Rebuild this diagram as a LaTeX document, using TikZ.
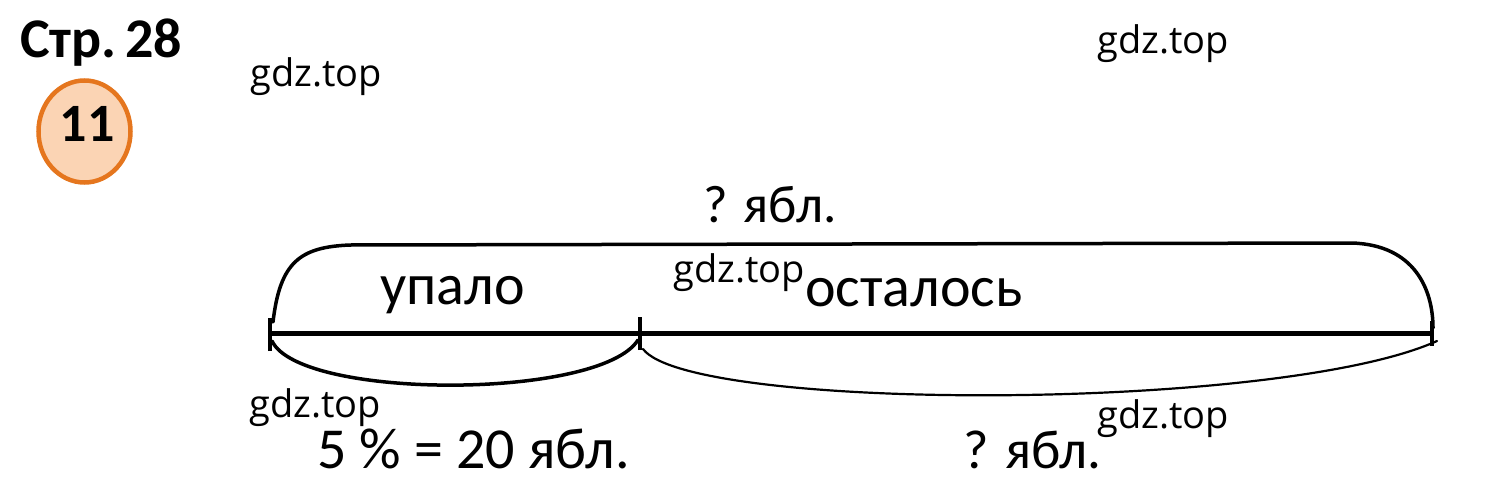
\documentclass[tikz,border=0pt]{standalone}
\usepackage{fontspec}
\setmainfont{Carlito}
\newfontfamily\wmfont{Open Sans}
\definecolor{ringorange}{HTML}{E5761E}
\definecolor{ringfill}{HTML}{FBD4B4}
\begin{document}
\begin{tikzpicture}[x=1pt,y=-1pt,
  txt/.style={anchor=base west,inner sep=0pt,font=\fontsize{58}{64}\selectfont},
  wm/.style={anchor=base west,inner sep=0pt,font=\wmfont\fontsize{38}{42}\selectfont},
  seg/.style={line width=5pt},
  tick/.style={line width=4pt},
  brace/.style={line width=3.5pt,line cap=round},
  thinbrace/.style={line width=2.2pt,line cap=round}]
\useasboundingbox (0,0) rectangle (1496,495);
% header
\node[anchor=base west,inner sep=0pt,font=\bfseries\fontsize{56}{60}\selectfont] (page) at (20,58) {Стр.\hspace{0.15em}28};
\draw[ringorange,fill=ringfill,line width=4.5pt] (84.5,131.5) ellipse [x radius=46,y radius=51];
\node[inner sep=0pt,font=\bfseries\fontsize{54}{60}\selectfont] (num) at (87,124) {11};
% watermarks
\node[wm] (w1) at (250,86) {gdz.top};
\node[wm] (w2) at (1097,54) {gdz.top};
\node[wm] (w3) at (673,282) {gdz.top};
\node[wm] (w4) at (249,417) {gdz.top};
\node[wm] (w5) at (1097,428) {gdz.top};
% segment
\coordinate (A) at (270,333);
\coordinate (M) at (640,333);
\coordinate (B) at (1432,333);
\draw[seg] (A) -- (B);
\draw[tick] ([yshift=-18pt]A) -- ([yshift=15pt]A);
\draw[tick] ([yshift=-17pt]M) -- ([yshift=16pt]M);
\draw[tick] ([yshift=-13pt]B) -- ([yshift=12pt]B);
% upper brace
\coordinate (ul) at (273,322);
\coordinate (ur) at (1433,328);
\draw[brace] (ul) .. controls (280,262) and (300,247) .. (350,245) -- (1352,243)
  .. controls (1415,245) and (1433,290) .. (ur);
% lower left brace
\coordinate (ll1) at (272,341);
\coordinate (ll2) at (638,340);
\draw[brace] (ll1) .. controls (300,400) and (600,400) .. (ll2);
% lower right brace
\coordinate (lr1) at (643,349);
\coordinate (lr2) at (1437,341);
\draw[thinbrace] (lr1) .. controls (690,412) and (1280,412) .. (lr2);
% labels
\node[txt,font=\fontsize{53}{60}\selectfont] (t1) at (703,222) {? ябл.};
\node[txt] (t2) at (380,304) {упало};
\node[txt] (t3) at (805,306) {осталось};
\node[txt] (t4) at (317,468) {5 \% = 20 ябл.};
\node[txt,font=\fontsize{55}{60}\selectfont] (t5) at (963,468) {? ябл.};
\end{tikzpicture}
\end{document}
